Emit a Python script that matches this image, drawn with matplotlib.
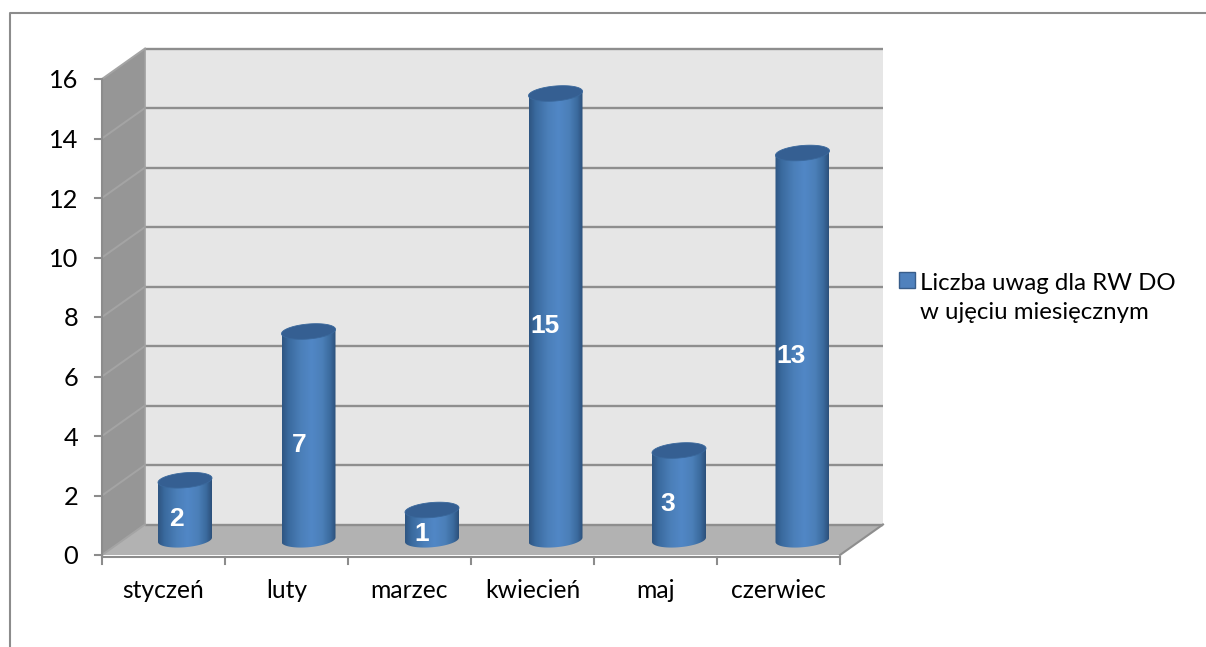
import numpy as np
import matplotlib
matplotlib.use("Agg")
import matplotlib.pyplot as plt
from matplotlib.colors import LinearSegmentedColormap
from matplotlib.legend_handler import HandlerPatch
from matplotlib.lines import Line2D
from matplotlib.patches import Polygon, Rectangle

months = ["styczeń", "luty", "marzec", "kwiecień", "maj", "czerwiec"]
values = [2, 7, 1, 15, 3, 13]
y_ticks = [0, 2, 4, 6, 8, 10, 12, 14, 16]
series_label = "Liczba uwag dla RW DO\nw ujęciu miesięcznym"

W, H = 1206, 647
plt.rcParams["font.family"] = ["Lato", "DejaVu Sans"]
fig = plt.figure(figsize=(W / 100, H / 100), dpi=100, facecolor="white")
L, R, B, T = 102, 840, 555, 79
ax = fig.add_axes([L / W, 1 - B / H, (R - L) / W, (B - T) / H])
ax.set_axis_off()
xlim = (-0.5, 5.5)
ylim = (0, 16)
ppx = (R - L) / 6
ppy = (B - T) / 16
DX = 43 / ppx
DY = 30.5 / ppy
FS = 17.7

# outer chart border (left and top only are visible in the crop)
fig.add_artist(Line2D([10 / W, 10 / W, 1], [0, 1 - 13 / H, 1 - 13 / H], transform=fig.transFigure,
                      color="#8c8c8c", lw=1.5))

# walls
x0, x1 = xlim
ax.add_patch(Polygon([(x0, 0), (x0 + DX, DY), (x1 + DX, DY), (x1, 0)], fc="#b2b2b2", ec="none", zorder=1, clip_on=False))
ax.add_patch(Polygon([(x0 + DX, DY), (x0 + DX, 16 + DY), (x1 + DX, 16 + DY), (x1 + DX, DY)], fc="#e6e6e6", ec="none", zorder=1, clip_on=False))
ax.add_patch(Polygon([(x0, 0), (x0, 16), (x0 + DX, 16 + DY), (x0 + DX, DY)], fc="#969696", ec="none", zorder=1, clip_on=False))

# grid lines
for t in y_ticks:
    ax.plot([x0 + DX, x1 + DX], [t + DY, t + DY], color="#8e8e8e", lw=1.7, zorder=2, clip_on=False, solid_capstyle="butt")
    ax.plot([x0, x0 + DX], [t, t + DY], color="#a4a4a4", lw=1.4, zorder=2, clip_on=False)
ax.plot([x0 + DX, x0 + DX], [DY, 16 + DY], color="#a0a0a0", lw=1.2, zorder=2, clip_on=False)
ax.plot([x1, x1 + DX], [0, DY], color="#8e8e8e", lw=1.5, zorder=2, clip_on=False)

# axes lines and ticks
ax.plot([x0, x0], [0, 16], color="#8c8c8c", lw=1.5, zorder=3, clip_on=False)
ax.plot([x0, x1], [-2 / ppy, -2 / ppy], color="#8c8c8c", lw=1.5, zorder=3, clip_on=False)
for t in y_ticks:
    ax.plot([x0 - 7 / ppx, x0], [t, t], color="#8c8c8c", lw=1.5, zorder=3, clip_on=False)
    ax.text(x0 - 24 / ppx, t - 2 / ppy, str(t), ha="right", va="center", fontsize=FS + 0.6, color="black")
for i in range(len(months) + 1):
    ax.plot([x0 + i, x0 + i], [-2 / ppy, -9 / ppy], color="#8c8c8c", lw=1.5, zorder=3, clip_on=False)
for i, m in enumerate(months):
    ax.text(i, -36 / ppy, m, ha="center", va="center", fontsize=FS, color="black")

# cylinders
cmap = LinearSegmentedColormap.from_list("cyl", [(0, "#2e5582"), (0.12, "#3a6a9e"), (0.35, "#4b7fb9"), (0.55, "#5187c6"), (0.75, "#4b7fb8"), (0.9, "#3b6a9d"), (1, "#2c507b")])
hw = 27 / ppx
eb = 7.5 / ppy
shear = 2.2 / ppy
pitch = 123.5 / 123
t_arc = np.linspace(np.pi, 2 * np.pi, 60)
t_full = np.linspace(0, 2 * np.pi, 120)
grad = np.linspace(0, 1, 200).reshape(1, -1)
for i, v in enumerate(values):
    cx = i * pitch + DX / 2
    y0 = DY / 2
    ytop = v + DY / 2
    xs = cx + hw * np.cos(t_arc)
    ys = y0 + eb * np.sin(t_arc) + shear * np.cos(t_arc)
    verts = list(zip(xs, ys))
    verts.append((cx + hw, ytop + shear))
    verts.append((cx - hw, ytop - shear))
    body = Polygon(verts, closed=True, fc="none", ec="none", transform=ax.transData)
    ax.add_patch(body)
    im = ax.imshow(grad, extent=(cx - hw, cx + hw, y0 - 1, ytop + 1), aspect="auto", cmap=cmap, vmin=0, vmax=1, zorder=4)
    im.set_clip_path(body)
    top = Polygon(list(zip(cx + hw * np.cos(t_full), ytop + eb * np.sin(t_full) + shear * np.cos(t_full))),
                  closed=True, fc="#355f92", ec="#3a689c", lw=0.6, zorder=5)
    ax.add_patch(top)
    ax.annotate(str(v), (i, v / 2), xytext=(12.5 * 0.72, 6 * 0.72), textcoords="offset points", ha="center", va="center",
                color="white", fontsize=19, fontweight="bold", family=["Liberation Sans"], zorder=6)

ax.set_xlim(*xlim)
ax.set_ylim(*ylim)


# legend: the swatch sits beside the first text line
def first_line_swatch(legend, orig_handle, xdescent, ydescent, width, height, fontsize):
    return Rectangle((-xdescent, -ydescent + 18 * 0.72), width, height)


handle = Rectangle((0, 0), 1, 1, fc="#4f81bd", ec="#385d8a", lw=1)
leg = ax.legend([handle], [series_label], loc="upper left", bbox_to_anchor=(898.5 / W, 1 - 272.5 / H),
                bbox_transform=fig.transFigure, frameon=False, fontsize=17.3, handlelength=0.68, handleheight=0.68,
                handletextpad=0.2, labelspacing=0, borderpad=0, borderaxespad=0,
                handler_map={Rectangle: HandlerPatch(patch_func=first_line_swatch)})
leg.get_texts()[0].set_linespacing(1.5)

fig.savefig("out.png", dpi=100)
